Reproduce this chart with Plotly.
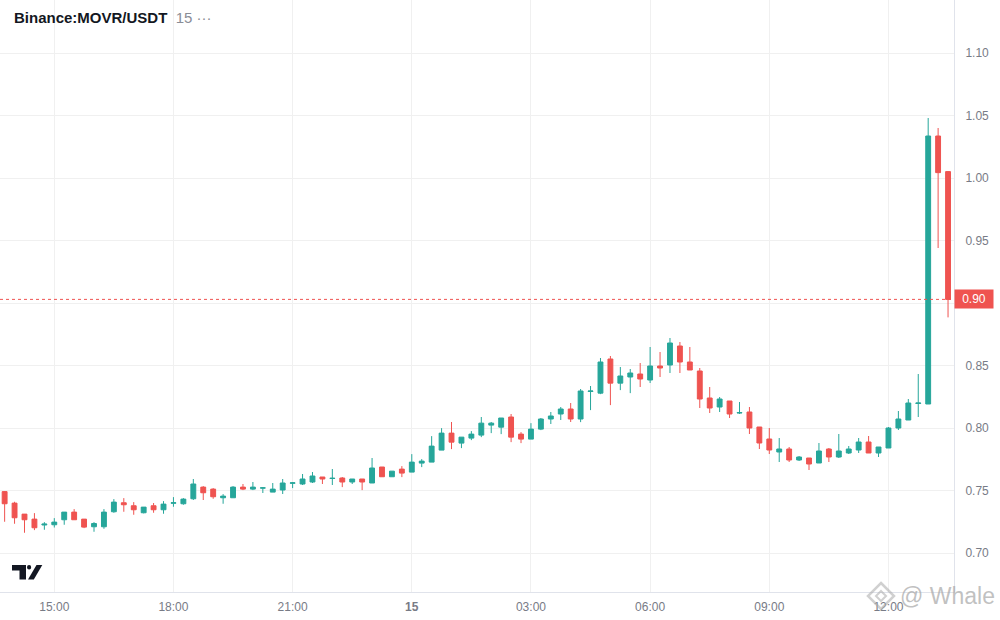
import pandas as pd
import plotly.graph_objects as go

# ---- data (15-minute candles, Binance:MOVR/USDT) ----
start_time = "2024-01-14 13:45"
open_ = [0.7491, 0.7399, 0.7311, 0.7271, 0.7224, 0.7226, 0.7266, 0.7327, 0.7271, 0.7210,
         0.7210, 0.7330, 0.7402, 0.7378, 0.7322, 0.7378, 0.7346, 0.7398, 0.7394, 0.7434,
         0.7527, 0.7511, 0.7442, 0.7442, 0.7527, 0.7511, 0.7519, 0.7487, 0.7504, 0.7558,
         0.7552, 0.7568, 0.7608, 0.7596, 0.7600, 0.7568, 0.7592, 0.7560, 0.7688, 0.7610,
         0.7671, 0.7647, 0.7719, 0.7727, 0.7823, 0.7959, 0.7879, 0.7919, 0.7943, 0.8023,
         0.8007, 0.8088, 0.7951, 0.7911, 0.7991, 0.8072, 0.8112, 0.8152, 0.8072, 0.8292,
         0.8279, 0.8552, 0.8359, 0.8408, 0.8432, 0.8384, 0.8496, 0.8504, 0.8656, 0.8528,
         0.8456, 0.8240, 0.8168, 0.8216, 0.8120, 0.8128, 0.8008, 0.7912, 0.7808, 0.7832,
         0.7744, 0.7760, 0.7720, 0.7832, 0.7768, 0.7800, 0.7824, 0.7888, 0.7800, 0.7840,
         0.8000, 0.8064, 0.8196, 0.8192, 1.0336, 1.0051]
high = [0.7496, 0.7410, 0.7311, 0.7319, 0.7247, 0.7279, 0.7327, 0.7351, 0.7271, 0.7247,
        0.7351, 0.7431, 0.7439, 0.7407, 0.7367, 0.7400, 0.7415, 0.7447, 0.7439, 0.7592,
        0.7535, 0.7519, 0.7471, 0.7535, 0.7552, 0.7568, 0.7527, 0.7560, 0.7592, 0.7568,
        0.7632, 0.7648, 0.7608, 0.7672, 0.7608, 0.7592, 0.7592, 0.7760, 0.7688, 0.7655,
        0.7695, 0.7791, 0.7751, 0.7935, 0.7999, 0.8048, 0.7927, 0.7975, 0.8088, 0.8048,
        0.8080, 0.8112, 0.7967, 0.8039, 0.8080, 0.8128, 0.8168, 0.8200, 0.8312, 0.8336,
        0.8560, 0.8576, 0.8488, 0.8472, 0.8520, 0.8648, 0.8608, 0.8720, 0.8688, 0.8648,
        0.8480, 0.8328, 0.8248, 0.8216, 0.8208, 0.8168, 0.8008, 0.8000, 0.7920, 0.7848,
        0.7776, 0.7760, 0.7880, 0.7840, 0.7952, 0.7856, 0.7920, 0.7936, 0.7848, 0.8008,
        0.8136, 0.8232, 0.8432, 1.0480, 1.0400, 1.0056]
low = [0.7250, 0.7234, 0.7162, 0.7183, 0.7186, 0.7204, 0.7226, 0.7266, 0.7199, 0.7170,
       0.7194, 0.7322, 0.7330, 0.7306, 0.7317, 0.7322, 0.7314, 0.7370, 0.7386, 0.7424,
       0.7424, 0.7434, 0.7394, 0.7442, 0.7503, 0.7503, 0.7480, 0.7487, 0.7472, 0.7519,
       0.7544, 0.7560, 0.7552, 0.7544, 0.7527, 0.7552, 0.7503, 0.7560, 0.7608, 0.7610,
       0.7607, 0.7647, 0.7687, 0.7727, 0.7823, 0.7831, 0.7839, 0.7903, 0.7927, 0.7959,
       0.7951, 0.7887, 0.7879, 0.7911, 0.7983, 0.8032, 0.8064, 0.8048, 0.8047, 0.8143,
       0.8271, 0.8183, 0.8303, 0.8279, 0.8328, 0.8360, 0.8408, 0.8440, 0.8440, 0.8464,
       0.8160, 0.8120, 0.8128, 0.8080, 0.8112, 0.7952, 0.7832, 0.7792, 0.7728, 0.7728,
       0.7736, 0.7664, 0.7720, 0.7728, 0.7760, 0.7792, 0.7800, 0.7800, 0.7768, 0.7840,
       0.7984, 0.8064, 0.8088, 0.8192, 0.9440, 0.8885]
close = [0.7394, 0.7282, 0.7266, 0.7202, 0.7231, 0.7247, 0.7327, 0.7266, 0.7207, 0.7236,
         0.7327, 0.7407, 0.7386, 0.7346, 0.7367, 0.7346, 0.7391, 0.7402, 0.7431, 0.7552,
         0.7482, 0.7450, 0.7455, 0.7527, 0.7511, 0.7527, 0.7521, 0.7511, 0.7560, 0.7561,
         0.7592, 0.7616, 0.7592, 0.7598, 0.7568, 0.7592, 0.7568, 0.7680, 0.7610, 0.7655,
         0.7639, 0.7727, 0.7735, 0.7855, 0.7959, 0.7887, 0.7927, 0.7951, 0.8039, 0.8039,
         0.8080, 0.7927, 0.7911, 0.7991, 0.8072, 0.8096, 0.8152, 0.8072, 0.8296, 0.8296,
         0.8528, 0.8359, 0.8416, 0.8440, 0.8392, 0.8496, 0.8480, 0.8680, 0.8528, 0.8464,
         0.8232, 0.8160, 0.8232, 0.8112, 0.8123, 0.8000, 0.7880, 0.7824, 0.7832, 0.7744,
         0.7768, 0.7712, 0.7816, 0.7768, 0.7816, 0.7832, 0.7888, 0.7800, 0.7848, 0.8000,
         0.8072, 0.8200, 0.8200, 1.0336, 1.0043, 0.9029]

tick_times = ["2024-01-14 15:00", "2024-01-14 18:00", "2024-01-14 21:00", "2024-01-15 00:00",
              "2024-01-15 03:00", "2024-01-15 06:00", "2024-01-15 09:00", "2024-01-15 12:00"]
tick_labels = ["15:00", "18:00", "21:00", "<b>15</b>", "03:00", "06:00", "09:00", "12:00"]
price_ticks = [0.70, 0.75, 0.80, 0.85, 0.90, 0.95, 1.00, 1.05, 1.10]

times = pd.date_range(start_time, periods=len(close), freq="15min")

UP = "#26a69a"
DOWN = "#ef5350"
GRID = "#f0f0f0"
TXT = "#787b86"
FONT = "Liberation Sans, Arial, sans-serif"

W, H = 1000, 620
ML, MR, MT, MB = 0, 46, 0, 28
PW, PH = W - ML - MR, H - MT - MB


def px(x):
    return x / PW


def py(y):
    return 1 - y / PH


fig = go.Figure(
    go.Candlestick(
        x=times, open=open_, high=high, low=low, close=close,
        increasing=dict(line=dict(color=UP, width=1), fillcolor=UP),
        decreasing=dict(line=dict(color=DOWN, width=1), fillcolor=DOWN),
        whiskerwidth=0,
        hoverinfo="skip",
        showlegend=False,
    )
)

shapes = []
# last price dotted line
shapes.append(dict(type="line", xref="paper", yref="y", x0=0, x1=1,
                   y0=close[-1], y1=close[-1],
                   line=dict(color=DOWN, width=1, dash="dot")))

# TradingView logo (decoration)
LOGO = "#131722"
shapes.append(dict(type="path", xref="paper", yref="paper", fillcolor=LOGO, line=dict(width=0),
                   path=f"M {px(12)} {py(565)} L {px(26)} {py(565)} L {px(26)} {py(579.5)} "
                        f"L {px(19.5)} {py(579.5)} L {px(19.5)} {py(570.5)} L {px(12)} {py(570.5)} Z"))
shapes.append(dict(type="circle", xref="paper", yref="paper", fillcolor=LOGO, line=dict(width=0),
                   x0=px(27), x1=px(31.2), y0=py(569.4), y1=py(565)))
shapes.append(dict(type="path", xref="paper", yref="paper", fillcolor=LOGO, line=dict(width=0),
                   path=f"M {px(28)} {py(579.5)} L {px(33.8)} {py(579.5)} L {px(42.3)} {py(565)} "
                        f"L {px(36.5)} {py(565)} Z"))

# watermark logo (diamond)
WM = "rgba(170,170,170,0.55)"
cx, cy, r = 881, 596, 13
shapes.append(dict(type="path", xref="paper", yref="paper", fillcolor="rgba(0,0,0,0)",
                   line=dict(color=WM, width=2.5),
                   path=f"M {px(cx)} {py(cy - r)} L {px(cx + r)} {py(cy)} L {px(cx)} {py(cy + r)} "
                        f"L {px(cx - r)} {py(cy)} Z"))
shapes.append(dict(type="path", xref="paper", yref="paper", fillcolor="rgba(0,0,0,0)",
                   line=dict(color=WM, width=2),
                   path=f"M {px(cx)} {py(cy - 5)} L {px(cx + 5)} {py(cy)} L {px(cx)} {py(cy + 5)} "
                        f"L {px(cx - 5)} {py(cy)} Z"))

annotations = [
    dict(xref="paper", yref="paper", x=px(12), y=py(18), xanchor="left", yanchor="middle",
         showarrow=False,
         text="<b>Binance:MOVR/USDT</b> <span style='color:#8a8d96'> 15 ···</span>",
         font=dict(family=FONT, size=15, color="#131722")),
    dict(xref="paper", yref="y", x=1, y=close[-1], xanchor="left", yanchor="middle",
         showarrow=False, text=f"{close[-1]:.2f}", bgcolor=DOWN, width=36, height=16,
         align="center", font=dict(family=FONT, size=12, color="white")),
    dict(xref="paper", yref="paper", x=px(898), y=py(596), xanchor="left", yanchor="middle",
         showarrow=False, text="@ Whale",
         font=dict(family=FONT, size=23, color="rgba(165,165,165,0.7)")),
]

# the 0.90 scale label sits under the last-price badge, as in the original
last_label = f"{close[-1]:.2f}"
price_text = ["" if f"{v:.2f}" == last_label else f"{v:.2f}" for v in price_ticks]

fig.update_layout(
    width=W, height=H,
    margin=dict(l=ML, r=MR, t=MT, b=MB, autoexpand=False),
    paper_bgcolor="white", plot_bgcolor="white",
    font=dict(family=FONT, size=12, color=TXT),
    shapes=shapes, annotations=annotations,
    hovermode=False,
    xaxis=dict(
        range=["2024-01-14 13:38", "2024-01-15 13:39"],
        rangeslider=dict(visible=False),
        tickmode="array", tickvals=tick_times, ticktext=tick_labels,
        showgrid=True, gridcolor=GRID, gridwidth=1,
        showline=True, linecolor="#e0e3eb", linewidth=1,
        ticks="", ticklabelstandoff=4,
        tickfont=dict(family=FONT, size=12, color=TXT),
        zeroline=False, fixedrange=True,
    ),
    yaxis=dict(
        side="right",
        range=[0.6688, 1.1424],
        tickmode="array", tickvals=price_ticks, ticktext=price_text,
        showgrid=True, gridcolor=GRID, gridwidth=1,
        showline=True, linecolor="#e0e3eb", linewidth=1,
        ticks="", ticklabelstandoff=8,
        tickfont=dict(family=FONT, size=12, color=TXT),
        zeroline=False, fixedrange=True,
    ),
)

fig.write_html(
    "out.html",
    config={"displayModeBar": False, "staticPlot": True},
    post_script="document.body.style.margin='0';document.body.style.padding='0';"
                "document.body.style.overflow='hidden';",
)
